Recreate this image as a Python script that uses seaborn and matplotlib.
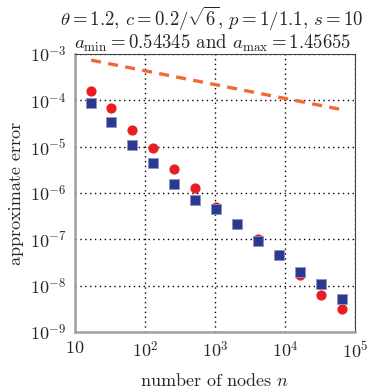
import numpy as np
import pandas as pd
import seaborn as sns
import matplotlib.pyplot as plt

# number of nodes and measured errors
nodes = [17, 33, 65, 129, 257, 513, 1025, 2049, 4097, 8193, 16385, 32769, 65537]
err_red = [1.6e-4, 7.0e-5, 2.3e-5, 9.3e-6, 3.3e-6, 1.3e-6, 5.1e-7, 2.2e-7,
           1.0e-7, 4.7e-8, 1.7e-8, 6.3e-9, 3.2e-9]
err_blue = [8.8e-5, 3.5e-5, 1.07e-5, 4.5e-6, 1.6e-6, 7.0e-7, 4.5e-7, 2.1e-7,
            9.1e-8, 4.7e-8, 1.95e-8, 1.07e-8, 5.1e-9]
# reference slope line
ref_nodes = [17, 65537]
ref_err = [7.4e-4, 6.3e-5]

xticks = [10, 1e2, 1e3, 1e4, 1e5]
xticklabels = ["$10$", "$10^2$", "$10^3$", "$10^4$", "$10^5$"]
yticks = [1e-9, 1e-8, 1e-7, 1e-6, 1e-5, 1e-4, 1e-3]
yticklabels = ["$10^{-9}$", "$10^{-8}$", "$10^{-7}$", "$10^{-6}$",
               "$10^{-5}$", "$10^{-4}$", "$10^{-3}$"]

sns.set_style("white")
plt.rcParams["font.family"] = ["cmr10", "DejaVu Serif"]
plt.rcParams["mathtext.fontset"] = "cm"
plt.rcParams["axes.unicode_minus"] = False

df = pd.DataFrame({"n": nodes, "red": err_red, "blue": err_blue})
ref = pd.DataFrame({"n": ref_nodes, "err": ref_err})

fig = plt.figure(figsize=(3.75, 3.92), dpi=100)
ax = fig.add_axes([0.2, 0.153, 0.747, 0.709])

sns.lineplot(data=ref, x="n", y="err", ax=ax, color="#f06a35", lw=2.4,
             linestyle=(0, (3, 2.2)), zorder=3)
sns.scatterplot(data=df, x="n", y="red", ax=ax, color="#ec1c24", marker="o",
                s=54, linewidth=0, zorder=4)
sns.scatterplot(data=df, x="n", y="blue", ax=ax, color="#2b3990", marker="s",
                s=46, edgecolor="#8c93c9", linewidth=0.6, zorder=5)

ax.set_xscale("log")
ax.set_yscale("log")
ax.set_xlim(10, 1e5)
ax.set_ylim(1e-9, 1e-3)
ax.set_xticks(xticks)
ax.set_xticklabels(xticklabels)
ax.set_yticks(yticks)
ax.set_yticklabels(yticklabels)
ax.minorticks_off()
ax.tick_params(length=0, labelsize=13, pad=6)
ax.grid(True, color="black", linestyle=(0, (1, 2.5)), linewidth=1.0)

for side in ["left", "bottom"]:
    ax.spines[side].set_color("#a0a0a0")
    ax.spines[side].set_linewidth(1.8)
for side in ["top", "right"]:
    ax.spines[side].set_color("#444444")
    ax.spines[side].set_linewidth(0.8)

ax.set_xlabel("number of nodes $n$", fontsize=13, labelpad=8)
ax.set_ylabel("approximate error", fontsize=13, labelpad=4)
ax.set_title("$\\theta = 1.2$, $c = 0.2/\\sqrt{6}$, $p = 1/1.1$, $s = 10$\n"
             "$a_{\\min} = 0.54345$ and $a_{\\max} = 1.45655$",
             fontsize=13.5, linespacing=1.0, pad=4, x=0.49)

fig.savefig("out.png", dpi=100)
